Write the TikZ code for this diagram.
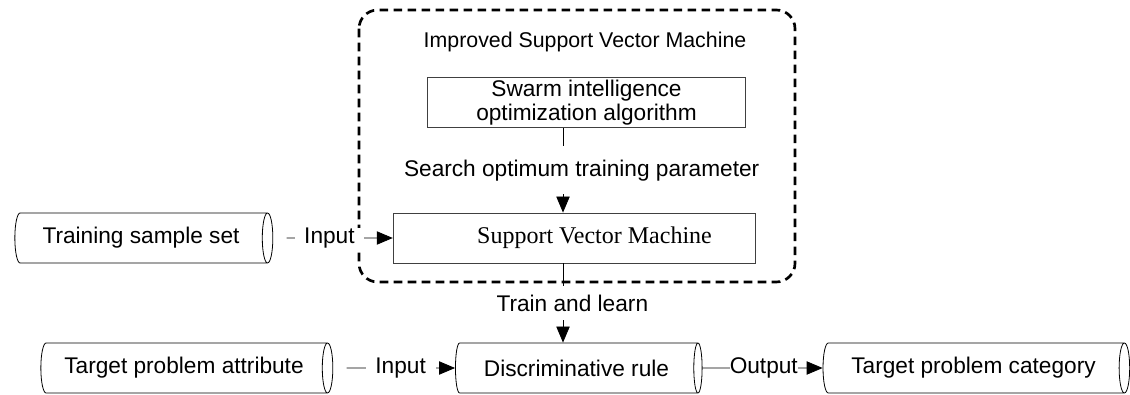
\documentclass[tikz,border=0pt]{standalone}
\usepackage{fontspec}
\setmainfont{Liberation Sans}
\newfontfamily\timesfont{Liberation Serif}
\usepackage{tikz}
\usetikzlibrary{positioning, fit}
\usetikzlibrary{calc}
\usetikzlibrary{shapes.geometric, arrows.meta}

\begin{document}
\begin{tikzpicture}[x=0.75pt,y=-0.75pt,
  font=\fontsize{17}{18}\selectfont,
  store/.style={cylinder, draw, line width=0.6pt, shape aspect=0.5, minimum width=37.5pt, inner sep=0pt},
  box/.style={rectangle, draw=black!75, line width=0.6pt, minimum height=37.5pt, align=center, inner sep=0pt},
  flow/.style={line width=0.6pt, -{Triangle[length=12pt,width=10pt]}},
  lbl/.style={fill=white, inner sep=0pt},
  frame/.style={line width=2pt, dash pattern=on 6.5pt off 4pt, rounded corners=14pt}]
\useasboundingbox (0,0) rectangle (1130,395);

% Define nodes
\node[store, minimum height=193.5pt] (train) at (141,238) {Training sample set};
\node[store, minimum height=219pt] (attr) at (184,368) {Target problem attribute};
\node[store, minimum height=185pt] (rule) at (576.5,368) {Discriminative rule};
\node[store, minimum height=230pt] (cat) at (973.5,368) {Target problem category};
\node[box, minimum width=272pt, font=\timesfont\fontsize{18}{20}\selectfont] (svm) at (574.5,238) {\hspace{30pt}Support Vector Machine};
\node[box, minimum width=239pt, minimum height=38pt] (swarm) at (586.5,102.5) {Swarm intelligence\\optimization algorithm};
\node[font=\fontsize{16}{17}\selectfont] (title) at (585,42) {Improved Support Vector Machine};
\coordinate (axis) at (563,0);

% Improved SVM frame
\draw[frame] (359,10) rectangle (795,282);

% Connect the nodes
\draw[flow] (swarm.south -| axis) -- node[lbl, minimum height=36pt, xshift=14pt] {Search optimum training parameter} (svm.north -| axis);
\draw[flow] (svm.south -| axis) -- node[lbl, minimum height=26pt, xshift=7pt] {Train and learn} (rule.north -| axis);
\draw[flow, shorten <=10pt] (train) -- node[lbl, pos=0.47, minimum width=52pt] {Input} (svm);
\draw[flow, shorten <=10pt] (attr) -- node[lbl, pos=0.553, minimum width=52.5pt] {Input} (rule);
\draw[flow] (rule) -- node[lbl, pos=0.51, minimum width=50pt] {Output} (cat);
\end{tikzpicture}
\end{document}
